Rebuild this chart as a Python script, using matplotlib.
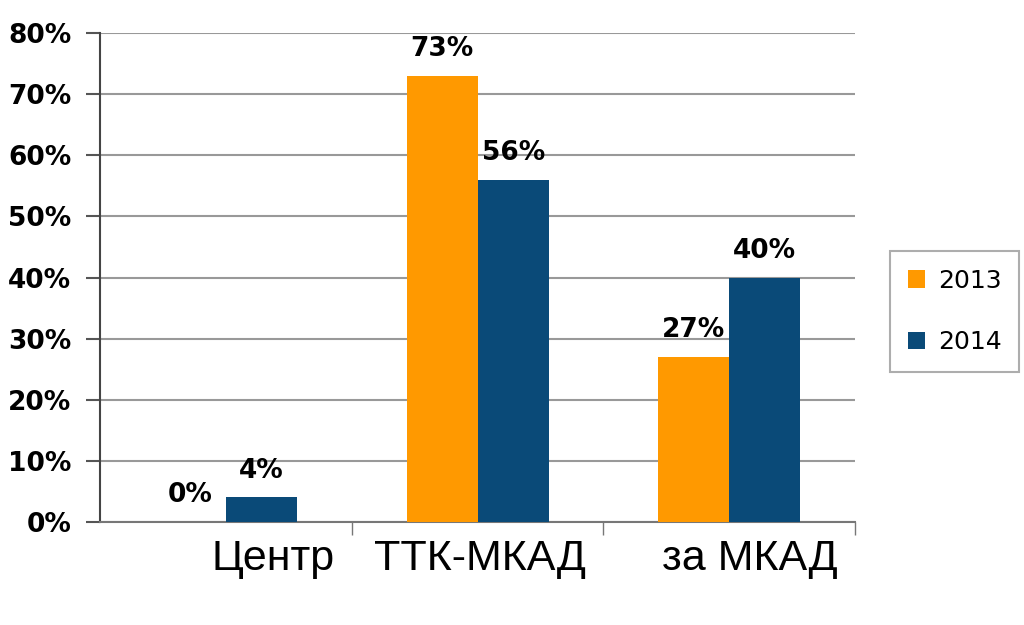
import numpy as np
import matplotlib
matplotlib.use("Agg")
from matplotlib import pyplot as plt

categories = ["Центр", "ТТК-МКАД", "за МКАД"]
years = ["2013", "2014"]
values_2013 = [0, 73, 27]
values_2014 = [4, 56, 40]
yticks = [0, 10, 20, 30, 40, 50, 60, 70, 80]

colors = ["#FF9900", "#0A4A78"]

fig = plt.figure(figsize=(10.24, 6.25), dpi=100)
ax = fig.add_axes([0.098, 0.165, 0.737, 0.782])

x = np.arange(len(categories))
w = 0.283

b1 = ax.bar(x - w/2, values_2013, w, color=colors[0], label=years[0], zorder=3)
b2 = ax.bar(x + w/2, values_2014, w, color=colors[1], label=years[1], zorder=3)

for bars, vals in [(b1, values_2013), (b2, values_2014)]:
    for bar, v in zip(bars, vals):
        ax.text(bar.get_x() + bar.get_width()/2, v + 2.2, f"{v}%",
                ha="center", va="bottom", fontsize=19, fontweight="bold",
                family="DejaVu Sans", zorder=4)

ax.set_ylim(0, 80)
ax.set_xlim(-0.5, 2.5)
ax.set_yticks(yticks)
ax.set_yticklabels([f"{t}%" for t in yticks], fontsize=19, fontweight="bold")
ax.tick_params(axis="y", length=10, width=1.5, color="#555555", pad=11)
ax.yaxis.grid(True, color="#999999", linewidth=1.5, zorder=0)

# category boundary ticks
ax.set_xticks([0.5, 1.5, 2.5], minor=True)
ax.tick_params(axis="x", which="minor", length=9, width=1, color="#777777")
ax.set_xticks(x + 0.43)
ax.set_xticklabels(categories, fontsize=31, family="Liberation Sans", ha="right")
ax.tick_params(axis="x", which="major", length=0, pad=12)

for s in ["top", "right"]:
    ax.spines[s].set_visible(False)
ax.spines["left"].set_color("#444444")
ax.spines["left"].set_linewidth(1.5)
ax.spines["bottom"].set_color("#777777")
ax.spines["bottom"].set_linewidth(1.5)

leg = ax.legend(loc="center left", bbox_to_anchor=(1.03, 0.43), fontsize=18,
                frameon=True, fancybox=False, edgecolor="#999999",
                handlelength=0.7, handleheight=0.7, handletextpad=0.5,
                labelspacing=1.5, borderpad=0.7)
leg.get_frame().set_linewidth(1.5)

fig.savefig("out.png", dpi=100)
